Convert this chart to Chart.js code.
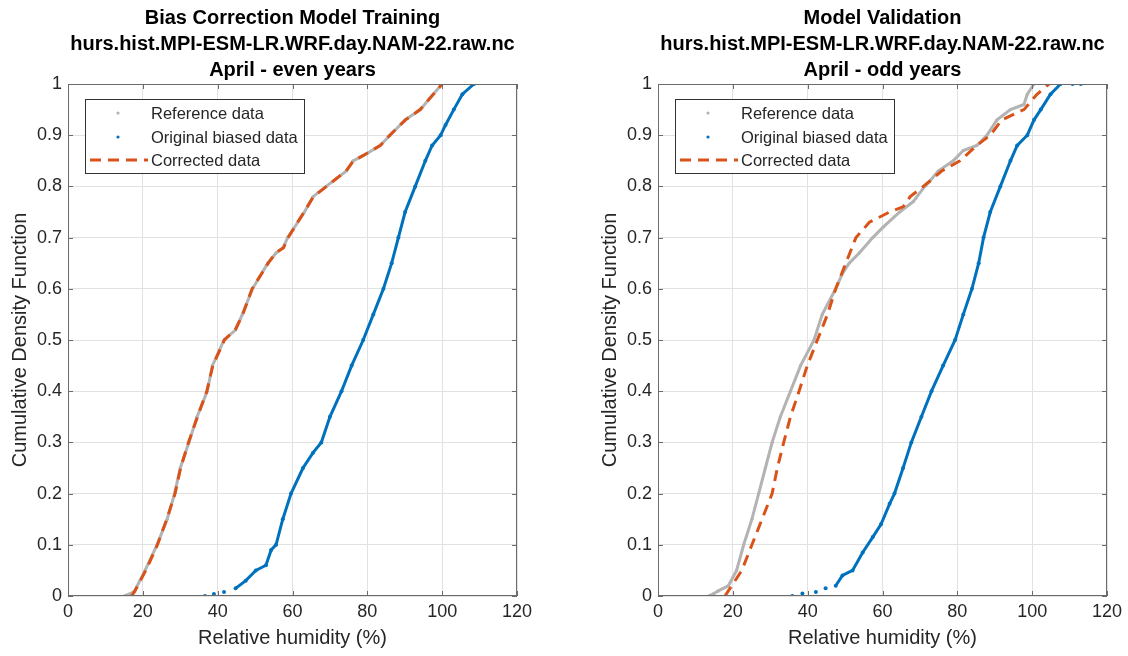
<!DOCTYPE html>
<html>
<head>
<meta charset="utf-8">
<script src="https://cdn.jsdelivr.net/npm/chart.js@4.4.0/dist/chart.umd.min.js"></script>
<style>
  html, body { margin: 0; padding: 0; background: #fff; overflow: hidden; }
  canvas { position: absolute; top: 0; }
  #trainChart { left: 0; }
  #validChart { left: 590px; }
</style>
</head>
<body>
<canvas id="trainChart" width="538" height="656"></canvas>
<canvas id="validChart" width="538" height="656"></canvas>
<script>
// ---- data (x = relative humidity %, p = cumulative probability) ----
const trainRefX = [15.0, 16.8, 17.8, 20.6, 23.8, 26.5, 28.5, 30.0, 32.3, 34.5, 37.2, 38.6, 41.7, 44.8, 46.6, 49.3, 53.4, 55.6, 57.5, 58.7, 63.2, 65.5, 69.0, 74.4, 76.2, 78.9, 83.4, 86.1, 90.1, 94.2, 96.4, 100.0];
const trainRefP = [0, 0.005, 0.01, 0.05, 0.1, 0.15, 0.2, 0.25, 0.3, 0.35, 0.4, 0.45, 0.5, 0.52, 0.55, 0.6, 0.65, 0.67, 0.68, 0.7, 0.75, 0.78, 0.8, 0.83, 0.85, 0.86, 0.88, 0.9, 0.93, 0.95, 0.97, 1.0];

const trainOrigX = [36.6, 39.0, 41.7, 44.8, 47.5, 50.2, 52.9, 54.3, 55.6, 57.4, 59.6, 62.8, 65.5, 67.7, 70.0, 73.1, 75.8, 78.9, 81.6, 84.3, 86.5, 88.3, 90.1, 92.8, 95.5, 97.3, 99.6, 100.9, 103.1, 105.4, 108.5];
const trainOrigP = [0, 0.004, 0.008, 0.015, 0.03, 0.05, 0.06, 0.09, 0.1, 0.15, 0.2, 0.25, 0.28, 0.3, 0.35, 0.4, 0.45, 0.5, 0.55, 0.6, 0.65, 0.7, 0.75, 0.8, 0.85, 0.88, 0.9, 0.92, 0.95, 0.98, 1.0];

const trainCorrX = [17.0, 17.9, 20.8, 23.9, 26.4, 28.6, 30.1, 32.2, 34.6, 37.1, 38.7, 41.8, 44.7, 46.7, 49.2, 53.5, 55.5, 57.6, 58.8, 63.1, 65.6, 69.1, 74.3, 76.3, 78.8, 83.5, 86.0, 90.2, 94.1, 96.5, 100.0];
const trainCorrP = [0, 0.01, 0.05, 0.1, 0.15, 0.2, 0.25, 0.3, 0.35, 0.4, 0.45, 0.5, 0.52, 0.55, 0.6, 0.65, 0.67, 0.68, 0.7, 0.75, 0.78, 0.8, 0.83, 0.85, 0.86, 0.88, 0.9, 0.93, 0.95, 0.97, 1.0];

const validRefX = [13.5, 15.0, 16.1, 18.8, 21.0, 22.9, 25.1, 26.9, 28.7, 30.5, 32.7, 35.4, 38.1, 41.7, 43.9, 47.5, 49.3, 51.1, 53.8, 57.4, 60.1, 64.6, 68.2, 71.3, 72.6, 74.9, 78.9, 81.6, 85.2, 87.9, 90.6, 94.2, 97.8, 98.7, 100.5];
const validRefP = [0, 0.005, 0.01, 0.02, 0.05, 0.1, 0.15, 0.2, 0.25, 0.3, 0.35, 0.4, 0.45, 0.5, 0.55, 0.6, 0.63, 0.65, 0.67, 0.7, 0.72, 0.75, 0.77, 0.8, 0.81, 0.83, 0.85, 0.87, 0.88, 0.9, 0.93, 0.95, 0.96, 0.98, 1.0];

const validOrigX = [35.9, 38.6, 42.2, 44.8, 47.5, 49.3, 52.0, 54.7, 57.4, 59.6, 61.9, 63.2, 65.5, 67.7, 70.4, 73.1, 76.2, 79.4, 81.6, 83.9, 85.7, 87.0, 88.8, 91.5, 94.2, 96.0, 98.7, 100.5, 102.3, 104.9, 107.6, 110.8, 113.0];
const validOrigP = [0, 0.005, 0.008, 0.015, 0.02, 0.04, 0.05, 0.085, 0.115, 0.14, 0.18, 0.2, 0.25, 0.3, 0.35, 0.4, 0.45, 0.5, 0.55, 0.6, 0.65, 0.7, 0.75, 0.8, 0.85, 0.88, 0.9, 0.93, 0.95, 0.98, 1.0, 1.0, 1.0];

const validCorrX = [17.9, 18.8, 22.4, 25.1, 27.8, 30.5, 31.9, 33.6, 35.4, 37.7, 39.9, 42.6, 45.3, 47.5, 50.2, 52.9, 56.5, 61.9, 65.5, 67.4, 70.9, 72.6, 75.8, 80.7, 85.2, 88.8, 91.9, 97.8, 101.3, 104.5];
const validCorrP = [0, 0.01, 0.05, 0.1, 0.15, 0.2, 0.25, 0.3, 0.35, 0.4, 0.45, 0.5, 0.55, 0.6, 0.65, 0.7, 0.73, 0.75, 0.76, 0.78, 0.8, 0.81, 0.83, 0.85, 0.88, 0.9, 0.93, 0.95, 0.98, 1.0];

const seriesNames = ['Reference data', 'Original biased data', 'Corrected data'];
const trainTitle = ['Bias Correction Model Training', 'hurs.hist.MPI-ESM-LR.WRF.day.NAM-22.raw.nc', 'April - even years'];
const validTitle = ['Model Validation', 'hurs.hist.MPI-ESM-LR.WRF.day.NAM-22.raw.nc', 'April - odd years'];
const xLabel = 'Relative humidity (%)';
const yLabel = 'Cumulative Density Function';

const FONT = '"Liberation Sans", Arial, Helvetica, sans-serif';
const GREY = '#b3b3b3', BLUE = '#0072BD', ORANGE = '#D95319';
const AXIS = '#6b6b6b', TEXT = '#262626';
const DASH = [11, 7];

Chart.defaults.font.family = FONT;

function pts(xs, ps) {
  return xs.map((x, i) => ({ x: x, y: ps[i] }));
}

// sparse tails of the scatter: only dots, no connecting line
function sparseGap(ctx) {
  const dx = ctx.p1.parsed.x - ctx.p0.parsed.x;
  const dy = Math.abs(ctx.p1.parsed.y - ctx.p0.parsed.y);
  return (dx > 2 && dy / dx < 0.003) ? 'rgba(0,0,0,0)' : undefined;
}

// box, inward ticks, titles and legend (MATLAB look)
const matlabPlugin = {
  id: 'matlab',
  afterDatasetsDraw(chart) {
    const { ctx, chartArea: a, scales } = chart;
    ctx.save();
    ctx.strokeStyle = AXIS;
    ctx.lineWidth = 1;
    ctx.strokeRect(a.left + 0.5, a.top + 0.5, a.right - a.left - 1, a.bottom - a.top - 1);
    ctx.beginPath();
    scales.x.ticks.forEach(t => {
      const px = Math.round(scales.x.getPixelForValue(t.value)) + 0.5;
      ctx.moveTo(px, a.bottom); ctx.lineTo(px, a.bottom - 5);
      ctx.moveTo(px, a.top); ctx.lineTo(px, a.top + 5);
    });
    scales.y.ticks.forEach(t => {
      const py = Math.round(scales.y.getPixelForValue(t.value)) + 0.5;
      ctx.moveTo(a.left, py); ctx.lineTo(a.left + 5, py);
      ctx.moveTo(a.right, py); ctx.lineTo(a.right - 5, py);
    });
    ctx.stroke();

    // legend
    const lx = a.left + 17, ly = a.top + 15, lw = 219, lh = 74;
    ctx.fillStyle = '#fff';
    ctx.fillRect(lx, ly, lw, lh);
    ctx.strokeStyle = '#333';
    ctx.strokeRect(lx + 0.5, ly + 0.5, lw, lh);
    const rows = [ly + 14, ly + 38, ly + 61];
    const ds = chart.data.datasets;
    ctx.font = '16.5px ' + FONT;
    ctx.textBaseline = 'middle';
    ctx.textAlign = 'left';
    seriesNames.forEach((name, i) => {
      const d = ds.find(s => s.label === name);
      const cy = rows[i];
      if (d.borderDash && d.borderDash.length) {
        ctx.strokeStyle = d.borderColor;
        ctx.lineWidth = 3;
        ctx.setLineDash(DASH);
        ctx.beginPath();
        ctx.moveTo(lx + 5, cy); ctx.lineTo(lx + 63, cy);
        ctx.stroke();
        ctx.setLineDash([]);
      } else {
        ctx.fillStyle = d.borderColor;
        ctx.beginPath();
        ctx.arc(lx + 33, cy, 1.6, 0, Math.PI * 2);
        ctx.fill();
      }
      ctx.fillStyle = TEXT;
      ctx.fillText(name, lx + 66, cy + 1);
    });
    ctx.restore();
  },
  afterDraw(chart, args, opts) {
    const { ctx, chartArea: a } = chart;
    ctx.save();
    ctx.fillStyle = '#000';
    ctx.font = 'bold 20px ' + FONT;
    ctx.textAlign = 'center';
    ctx.textBaseline = 'middle';
    const cx = (a.left + a.right) / 2;
    opts.lines.forEach((line, i) => ctx.fillText(line, cx, 18 + i * 26));
    ctx.restore();
  }
};

function makeChart(id, title, refX, refP, origX, origP, corrX, corrP) {
  return new Chart(document.getElementById(id), {
    type: 'scatter',
    data: {
      datasets: [
        { label: seriesNames[2], data: pts(corrX, corrP), showLine: true, borderColor: ORANGE, backgroundColor: ORANGE,
          borderWidth: 3, borderDash: DASH, pointRadius: 0, order: 0 },
        { label: seriesNames[1], data: pts(origX, origP), showLine: true, borderColor: BLUE, backgroundColor: BLUE,
          borderWidth: 3, pointRadius: 2, pointBorderWidth: 0, order: 1,
          segment: { borderColor: sparseGap } },
        { label: seriesNames[0], data: pts(refX, refP), showLine: true, borderColor: GREY, backgroundColor: GREY,
          borderWidth: 3, pointRadius: 1.6, pointBorderWidth: 0, order: 2 }
      ]
    },
    options: {
      responsive: false,
      animation: false,
      layout: { padding: { top: 84, right: 21, left: 0, bottom: 0 } },
      plugins: {
        legend: { display: false },
        tooltip: { enabled: false },
        matlab: { lines: title }
      },
      scales: {
        x: {
          type: 'linear', min: 0, max: 120,
          ticks: { stepSize: 20, padding: 5, color: TEXT, font: { size: 18 }, maxRotation: 0 },
          grid: { color: '#e2e2e2', drawTicks: false },
          border: { display: false },
          title: { display: true, text: xLabel, color: TEXT, font: { size: 20 }, padding: { top: 0, bottom: 6 } },
          afterFit: s => { s.height = 60; }
        },
        y: {
          type: 'linear', min: 0, max: 1,
          ticks: { stepSize: 0.1, padding: 6, color: TEXT, font: { size: 18 }, callback: v => String(+v.toFixed(1)) },
          grid: { color: '#e2e2e2', drawTicks: false },
          border: { display: false },
          title: { display: true, text: yLabel, color: TEXT, font: { size: 20 }, padding: { top: 8, bottom: 0 } },
          afterFit: s => { s.width = 68; }
        }
      }
    },
    plugins: [matlabPlugin]
  });
}

makeChart('trainChart', trainTitle, trainRefX, trainRefP, trainOrigX, trainOrigP, trainCorrX, trainCorrP);
makeChart('validChart', validTitle, validRefX, validRefP, validOrigX, validOrigP, validCorrX, validCorrP);
</script>
</body>
</html>
